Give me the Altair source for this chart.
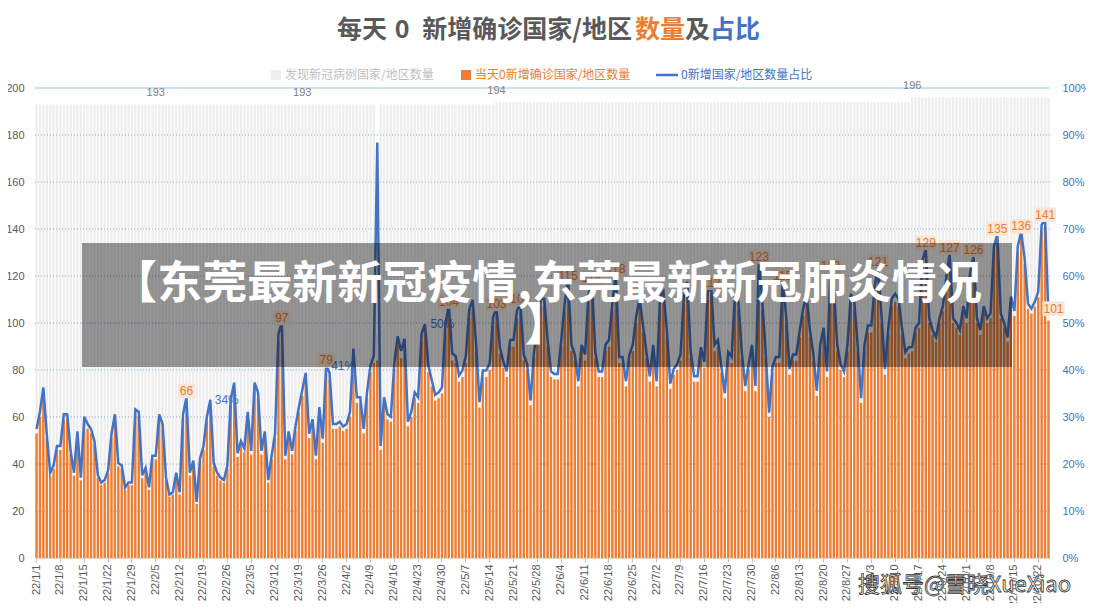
import altair as alt
import pandas as pd
import datetime as dt

# ---------------- data ----------------
# daily count of countries/regions with 0 new confirmed cases, from 2022-01-01
orange = [
    53, 60, 70, 51, 35, 38, 46, 46, 59, 59,
    44, 35, 52, 33, 58, 55, 53, 48, 34, 31,
    32, 36, 51, 59, 39, 38, 29, 31, 31, 61,
    60, 34, 37, 29, 42, 42, 59, 55, 33, 26,
    27, 35, 27, 59, 66, 35, 40, 23, 41, 46,
    58, 65, 39, 35, 33, 32, 38, 65, 72, 43,
    48, 45, 60, 44, 72, 68, 44, 52, 32, 42,
    51, 92, 97, 42, 52, 44, 54, 62, 69, 76,
    51, 57, 42, 62, 49, 79, 76, 55, 55, 56,
    54, 55, 60, 86, 66, 66, 53, 68, 79, 83,
    84, 46, 66, 59, 58, 80, 91, 85, 90, 56,
    60, 68, 66, 92, 96, 79, 73, 67, 68, 70,
    96, 104, 84, 83, 75, 77, 83, 102, 106, 88,
    64, 77, 77, 80, 99, 103, 87, 81, 77, 90,
    90, 102, 105, 84, 80, 65, 85, 94, 107, 107,
    90, 77, 76, 76, 90, 105, 115, 88, 84, 73,
    88, 84, 109, 114, 85, 77, 77, 88, 90, 105,
    118, 83, 83, 73, 84, 88, 100, 107, 96, 85,
    75, 88, 73, 108, 110, 94, 72, 78, 80, 84,
    108, 114, 85, 75, 75, 87, 81, 110, 112, 88,
    90, 79, 68, 85, 83, 109, 106, 85, 71, 80,
    88, 71, 123, 106, 85, 60, 79, 83, 83, 115,
    100, 78, 84, 84, 94, 103, 109, 94, 84, 69,
    88, 95, 77, 119, 112, 88, 80, 77, 88, 109,
    106, 88, 66, 88, 96, 96, 112, 121, 100, 78,
    95, 107, 109, 107, 95, 85, 87, 88, 96, 98,
    124, 129, 100, 95, 92, 100, 105, 117, 127, 100,
    98, 95, 105, 100, 119, 126, 100, 95, 105, 100,
    102, 130, 135, 102, 98, 92, 109, 103, 130, 136,
    125, 106, 104, 107, 111, 139, 141, 101,
]
# countries/regions that have reported cases (step values)
gray = [193] * 100 + [95] + [193] * 34 + [194] * 122 + [196] * 41

orange_label_idx = [44, 72, 85, 121, 135, 142, 156, 163, 170, 198, 212, 219,
                    233, 247, 261, 268, 275, 282, 289, 296, 297]
orange_label_dx = [0] * 20 + [5]
gray_label_idx = [35, 78, 135, 257]
pct_label_idx = [57, 85, 120]
pct_label_dx = [-4, 17, -3]

left_ticks = [0, 20, 40, 60, 80, 100, 120, 140, 160, 180, 200]
grid_vals = [20, 40, 60, 80, 100, 120, 140, 160, 180]
right_ticks = [0, 0.1, 0.2, 0.3, 0.4, 0.5, 0.6, 0.7, 0.8, 0.9, 1.0]

ORANGE = "#ed7d31"
BLUE = "#4472c4"
GRAYTXT = "#595959"
CJK = "Noto Sans CJK SC"
NUM = "Liberation Sans"

# ---------------- tables ----------------
start = dt.date(2022, 1, 1)
labels = []
for k in range(len(orange)):
    d = start + dt.timedelta(days=k)
    labels.append(f"{d.year % 100}/{d.month}/{d.day}")
tick_labels = labels[::7]

df = pd.DataFrame({"d": labels, "o": orange, "g": gray})
df["r"] = df["o"] / df["g"]

glab = df.iloc[gray_label_idx].copy()

grid_df = pd.DataFrame({"v": grid_vals})
top_df = pd.DataFrame({"v": [200]})
one = pd.DataFrame({"a": [0]})

xaxis = alt.Axis(values=tick_labels, labelAngle=270, labelFontSize=11, labelFont=NUM,
                 labelColor=GRAYTXT, tickColor="#bfbfbf", domainColor="#d9d9d9",
                 tickSize=4, labelPadding=2, title=None, grid=False, labelOverlap=False)
X = alt.X("d:O", sort=labels, scale=alt.Scale(paddingInner=0.3, paddingOuter=0.1), axis=xaxis)
left_scale = alt.Scale(domain=[0, 200])
right_scale = alt.Scale(domain=[0, 1])

gray_bars = alt.Chart(df).mark_bar(color="#eeeeee").encode(
    x=X,
    y=alt.Y("g:Q", scale=left_scale,
            axis=alt.Axis(values=left_ticks, grid=False, domain=False, ticks=False,
                          labelColor=GRAYTXT, labelFontSize=11, labelFont=NUM,
                          labelPadding=11, title=None)),
)

grid = alt.Chart(grid_df).mark_rule(color="#8faadc", strokeDash=[1, 2], strokeWidth=1).encode(
    y=alt.Y("v:Q", scale=left_scale, axis=None))
top = alt.Chart(top_df).mark_rule(color="#9dc3e6", strokeWidth=1.2).encode(
    y=alt.Y("v:Q", scale=left_scale, axis=None))

orange_bars = alt.Chart(df).mark_bar(color=ORANGE).encode(
    x=X, y=alt.Y("o:Q", scale=left_scale, axis=None))

gray_text = alt.Chart(glab).mark_text(dy=-11, fontSize=11, font=NUM, color="#7f7f7f").encode(
    x=X, y=alt.Y("g:Q", scale=left_scale, axis=None), text="g:Q")

line = alt.Chart(df).mark_line(color=BLUE, strokeWidth=2.5).encode(
    x=X,
    y=alt.Y("r:Q", scale=right_scale,
            axis=alt.Axis(orient="right", values=right_ticks, format=".0%", grid=False,
                          domain=False, ticks=False, labelColor=BLUE, labelFontSize=11,
                          labelFont=NUM, labelPadding=12, title=None)),
)

# orange data labels (drawn over the line)
box3 = "M-1,-0.66H1V0.66H-1Z"
box2 = "M-0.78,-0.66H0.78V0.66H-0.78Z"
label_layers = []
for idx, ddx in zip(orange_label_idx, orange_label_dx):
    sub = df.iloc[[idx]].copy()
    path = box3 if sub["o"].iloc[0] >= 100 else box2
    label_layers.append(
        alt.Chart(sub).mark_point(filled=True, opacity=1, size=484, yOffset=-12, xOffset=ddx,
                                  color="#fbe5d6", strokeWidth=0, shape=path).encode(
            x=X, y=alt.Y("o:Q", scale=left_scale, axis=None)))
    label_layers.append(
        alt.Chart(sub).mark_text(dy=-12, dx=ddx, fontSize=12, font=NUM, color=ORANGE).encode(
            x=X, y=alt.Y("o:Q", scale=left_scale, axis=None), text="o:Q"))

pct_layers = []
for idx, ddx in zip(pct_label_idx, pct_label_dx):
    sub = df.iloc[[idx]].copy()
    sub["t"] = (sub["r"] * 100).round().astype(int).astype(str) + "%"
    pct_layers.append(
        alt.Chart(sub).mark_text(fontSize=12, font=NUM, color=BLUE, dx=ddx).encode(
            x=X, y=alt.Y("r:Q", scale=right_scale, axis=None), text="t:N"))

# overlay banner (positions in plot pixels; plot origin is page (35, 88))
banner = alt.Chart(one).mark_rect(color="black", opacity=0.4).encode(
    x=alt.value(47), x2=alt.value(977), y=alt.value(155), y2=alt.value(279))
banner_t1 = alt.Chart(one).mark_text(text="【东莞最新新冠疫情,东莞最新新冠肺炎情况", font=CJK,
                                     fontSize=45, fontWeight="bold", color="white",
                                     align="center", baseline="middle").encode(
    x=alt.value(512), y=alt.value(197))
banner_t2 = alt.Chart(one).mark_text(text="】", font=CJK, fontSize=45, fontWeight="bold",
                                     color="white", align="center", baseline="middle").encode(
    x=alt.value(512), y=alt.value(239))

# title with coloured parts
t_parts = [("每天", GRAYTXT, 302, "left"),
           ("0", GRAYTXT, 367, "center"),
           ("新增确诊国家/地区", GRAYTXT, 597, "right"),
           ("数量", ORANGE, 600, "left"),
           ("及", GRAYTXT, 650, "left"),
           ("占比", BLUE, 675, "left")]
title_layers = [
    alt.Chart(one).mark_text(text=t, color=c, font=CJK, fontSize=25, fontWeight="bold",
                             align=a, baseline="middle").encode(x=alt.value(xp), y=alt.value(-58))
    for t, c, xp, a in t_parts
]

# legend
leg = [
    alt.Chart(one).mark_rect(color="#eeeeee").encode(
        x=alt.value(236), x2=alt.value(246), y=alt.value(-18), y2=alt.value(-8)),
    alt.Chart(one).mark_text(text="发现新冠病例国家/地区数量", color="#bfbfbf", font=CJK, fontSize=12,
                             align="left", baseline="middle").encode(x=alt.value(250), y=alt.value(-13)),
    alt.Chart(one).mark_rect(color=ORANGE).encode(
        x=alt.value(426), x2=alt.value(436), y=alt.value(-18), y2=alt.value(-8)),
    alt.Chart(one).mark_text(text="当天0新增确诊国家/地区数量", color=ORANGE, font=CJK, fontSize=12,
                             align="left", baseline="middle").encode(x=alt.value(440), y=alt.value(-13)),
    alt.Chart(one).mark_rule(color=BLUE, strokeWidth=2.5).encode(
        x=alt.value(621), x2=alt.value(643), y=alt.value(-13)),
    alt.Chart(one).mark_text(text="0新增国家/地区数量占比", color=BLUE, font=CJK, fontSize=12,
                             align="left", baseline="middle").encode(x=alt.value(646), y=alt.value(-13)),
]

watermark = alt.Chart(one).mark_text(text="搜狐号@雪晓XueXiao", font=CJK, fontSize=22,
                                     color="white", stroke="#333333", strokeWidth=0.8,
                                     align="left", baseline="middle").encode(
    x=alt.value(823), y=alt.value(497))

chart = alt.layer(
    gray_bars, grid, top, orange_bars, gray_text, line, *label_layers, *pct_layers,
    banner, banner_t1, banner_t2, *title_layers, *leg, watermark,
).resolve_scale(y="independent").properties(
    width=1015, height=470,
    autosize=alt.AutoSizeParams(type="none"),
    padding={"left": 27, "top": 80, "right": 36, "bottom": 45},
    background="white",
).configure_view(stroke=None)

chart.save("out.html", embed_options={"renderer": "svg", "actions": False})
